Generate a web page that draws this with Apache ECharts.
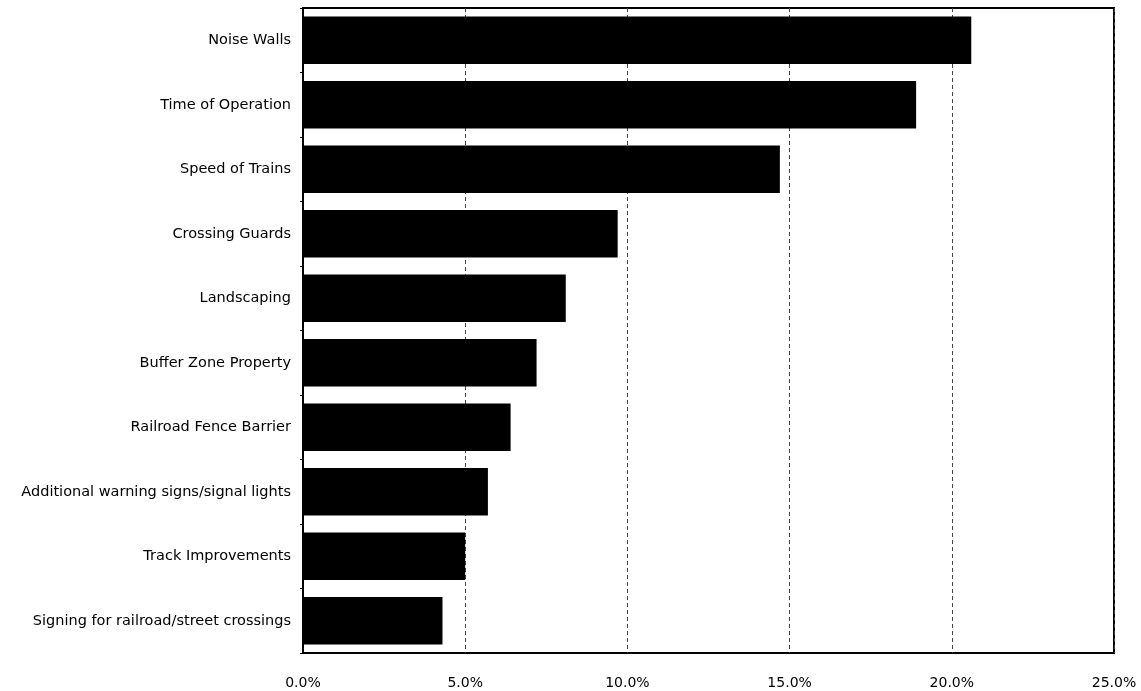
<!DOCTYPE html>
<html><head><meta charset="utf-8">
<script src="https://cdn.jsdelivr.net/npm/echarts@6/dist/echarts.min.js"></script>
<style>html,body{margin:0;padding:0;background:#fff}#c{width:1141px;height:691px}</style>
</head><body><div id="c"></div>
<script>
const categories = ["Noise Walls","Time of Operation","Speed of Trains","Crossing Guards","Landscaping","Buffer Zone Property","Railroad Fence Barrier","Additional warning signs/signal lights","Track Improvements","Signing for railroad/street crossings"];
const values = [20.6, 18.9, 14.7, 9.7, 8.1, 7.2, 6.4, 5.7, 5.0, 4.3];
const chart = echarts.init(document.getElementById('c'), null, {renderer:'canvas'});
chart.setOption({
  animation:false,
  backgroundColor:'#fff',
  grid:{left:303,right:27,top:8,bottom:38,show:true,borderColor:'#000',borderWidth:2,backgroundColor:'transparent'},
  xAxis:{type:'value',min:0,max:25,interval:5,
    axisLine:{show:false},axisTick:{show:false},
    axisLabel:{color:'#000',fontFamily:'DejaVu Sans',fontSize:14,margin:23,
      formatter:v=>v.toFixed(1)+'%'},
    splitLine:{show:true,lineStyle:{color:'#444',type:[4,3],width:1}}},
  yAxis:{type:'category',data:categories,inverse:true,
    axisLine:{show:true,lineStyle:{color:'#000',width:2}},
    axisTick:{show:true,length:3,lineStyle:{color:'#000'}},
    axisLabel:{color:'#000',fontFamily:'DejaVu Sans',fontSize:14.5,margin:12}},
  series:[{type:'bar',data:values,barCategoryGap:'26%',itemStyle:{color:'#000'}}]
});
</script></body></html>
